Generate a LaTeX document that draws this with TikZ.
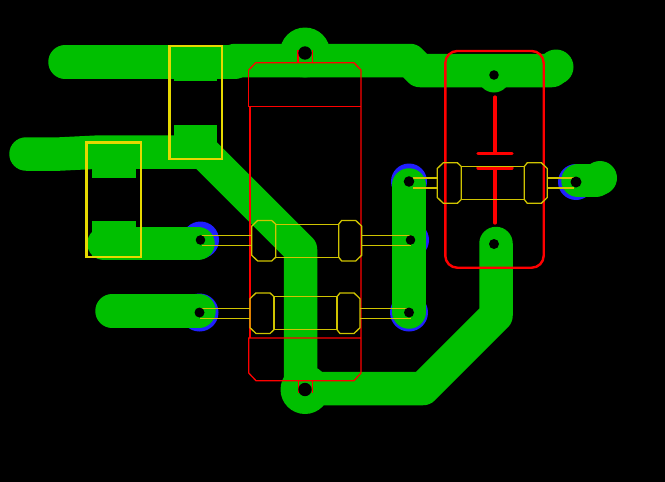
\documentclass[tikz,border=0pt]{standalone}
\usetikzlibrary{calc}

\definecolor{copper}{RGB}{0,191,0}
\definecolor{viablue}{RGB}{32,32,255}
\definecolor{silk}{RGB}{230,216,0}
\definecolor{footcol}{RGB}{208,196,0}
\definecolor{outline}{RGB}{255,0,0}

% resistor footprint: left x, mid y, lead ends left and right
\newcommand{\resfoot}[4]{
	\draw[foot] (#3,#2-5) -- (#1,#2-5) (#3,#2+5) -- (#1,#2+5);
	\draw[foot] (#1+110,#2-5) -- (#4,#2-5) (#1+110,#2+5) -- (#4,#2+5);
	\draw[foot] (#1+24,#2-16.5) rectangle (#1+87,#2+16.5);
	\draw[foot] (#1,#2-14.5) -- (#1+6,#2-20.3) -- (#1+20,#2-20.3) -- (#1+24,#2-16.5) -- (#1+24,#2+16.5) -- (#1+20,#2+20.3) -- (#1+6,#2+20.3) -- (#1,#2+14.5) -- cycle;
	\draw[foot] (#1+110,#2-14.5) -- (#1+104,#2-20.3) -- (#1+90,#2-20.3) -- (#1+87,#2-16.5) -- (#1+87,#2+16.5) -- (#1+90,#2+20.3) -- (#1+104,#2+20.3) -- (#1+110,#2+14.5) -- cycle;
}

\begin{document}
\begin{tikzpicture}[x=1pt, y=-1pt]
	\tikzstyle{track} = [copper, line width=33.5pt, line cap=round, line join=round]
	\tikzstyle{via} = [fill=viablue, draw=none]
	\tikzstyle{land} = [fill=copper, draw=none]
	\tikzstyle{hole} = [fill=black, draw=none]
	\tikzstyle{foot} = [footcol, line width=1.3pt]
	\tikzstyle{smd} = [silk, line width=2.6pt]
	\tikzstyle{thin} = [outline, line width=1.3pt]
	\tikzstyle{symb} = [outline, line width=3.2pt, line cap=round]
	
	\fill[black] (0,0) rectangle (665,482);
	\useasboundingbox (0,0) rectangle (665,482);
	
	\coordinate (top) at (305,53);
	\coordinate (bot) at (305,389.5);
	\coordinate (capa) at (494,75);
	\coordinate (capb) at (494,244);
	\coordinate (ra) at (200.5,240);
	\coordinate (rb) at (199.5,312.5);
	\coordinate (rc) at (409,181.5);
	\coordinate (rd) at (410.5,240);
	\coordinate (re) at (409,312.5);
	\coordinate (rf) at (576,182);
	
	% vias under the copper
	\foreach \pad/\rad in {ra/18.5, rb/19, rc/18, rd/18.5, re/19, rf/18}
		\fill[via] (\pad) circle (\rad);
	
	% tracks
	\draw[track] (65,62) -- (235,62);
	\draw[track] (235,60.5) -- (410,60.5) -- (420,70.5) -- (552,70.5);
	\draw[track] (26,154) -- (60,154) -- (100,152) -- (203,152) -- (300.5,249.5) -- (300.5,388.5) -- (423,388.5) -- (496,315.5) -- (496,243.5);
	\draw[track] (409,185) -- (409,312);
	\draw[track] (104,243.5) -- (198,243.5);
	\draw[track] (112,311) -- (199,311);
	\draw[track] (578,180.5) -- (596,180.5);
	
	\fill[land] (305,52.5) circle (25);
	\fill[land] (bot) circle (24.5);
	\fill[land] (494,76.5) circle (16);
	\fill[land] (556,67) circle (17.5);
	\fill[land] (600,178) circle (17);
	
	% smd lands
	\fill[land] (174.3,47) rectangle (217.3,81);
	\fill[land] (174.3,125) rectangle (217.3,158);
	\fill[land] (91.7,143) rectangle (135.7,177.7);
	\fill[land] (91.7,221) rectangle (135.7,257);
	
	\draw[smd] (169.3,46) rectangle (222,159);
	\draw[smd] (86.7,142.7) rectangle (141,257);
	
	% big outline
	\draw[thin] (248.7,70) -- (255.7,62.8) -- (354,62.8) -- (361,70) -- (361,373) -- (354,380.7) -- (256,380.7) -- (248.7,373) -- (248.7,338) -- (361,338);
	\draw[thin] (248.7,70) -- (248.7,106.7) -- (361,106.7);
	\draw[thin] (250,106.7) -- (250,338);
	\draw[thin] (298,62.8) -- (298,50) (312.7,50) -- (312.7,62.8);
	\draw[thin] (298.3,380.7) -- (298.3,393) (312.7,393) -- (312.7,380.7);
	
	% capacitor
	\draw[outline, line width=2.4pt, rounded corners=12pt] (445.3,51) rectangle (543.7,267.7);
	\draw[symb] (495,97) -- (495,153.3);
	\draw[symb] (478,153.3) -- (512,153.3);
	\draw[symb] (478,168) -- (512,168);
	\draw[symb] (495,168) -- (495,223);
	
	\resfoot{251.7}{240.7}{201.7}{410.7}
	\resfoot{250}{313.2}{200}{410.7}
	\resfoot{437.3}{183}{413.3}{574}
	
	\foreach \pad/\rad in {top/6.7, bot/6.7, capa/4.8, capb/5, ra/4.8, rb/5, rc/5.3, rd/4.8, re/5, rf/5.5}
		\fill[hole] (\pad) circle (\rad);
\end{tikzpicture}
\end{document}
